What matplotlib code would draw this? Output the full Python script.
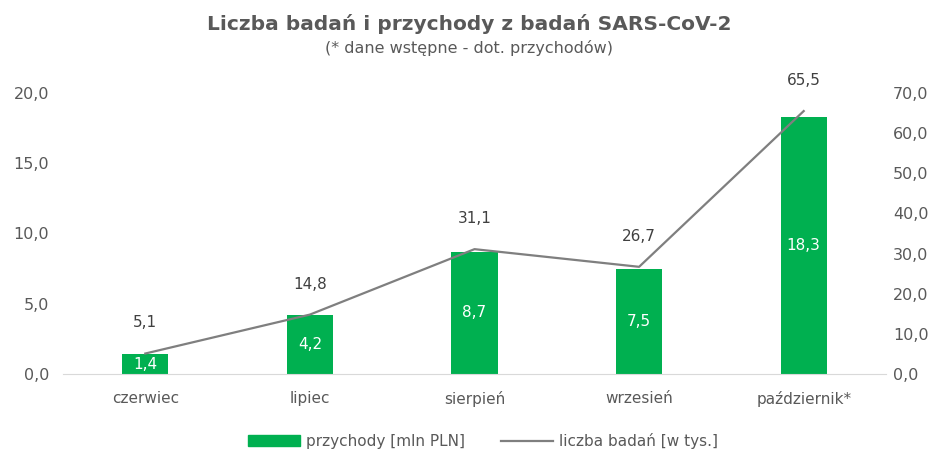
import matplotlib.pyplot as plt
from matplotlib.patches import Patch
from matplotlib.lines import Line2D

# dane
miesiace = ["czerwiec", "lipiec", "sierpień", "wrzesień", "październik*"]
przychody = [1.4, 4.2, 8.7, 7.5, 18.3]
liczba_badan = [5.1, 14.8, 31.1, 26.7, 65.5]
lewe_ticki = [0, 5, 10, 15, 20]
prawe_ticki = [0, 10, 20, 30, 40, 50, 60, 70]

zielony = "#00B050"
szary = "#7F7F7F"
tekst = "#595959"

def pl(v):
    return f"{v:.1f}".replace(".", ",")

fig = plt.figure(figsize=(9.38, 4.54), dpi=100)
ax1 = fig.add_axes([63 / 938, 1 - 374 / 454, (886 - 63) / 938, (374 - 93) / 454])
ax2 = ax1.twinx()

x = list(range(len(miesiace)))
ax1.bar(x, przychody, width=0.28, color=zielony, zorder=2)
ax2.plot(x, liczba_badan, color=szary, lw=1.6, zorder=3)

for xi, v in zip(x, przychody):
    ax1.text(xi, v / 2, pl(v), ha="center", va="center", color="white", fontsize=11)
for xi, v in zip(x, liczba_badan):
    ax2.annotate(pl(v), (xi, v), xytext=(0, 22), textcoords="offset points",
                 ha="center", va="center", color="#404040", fontsize=11)

ax1.set_xlim(-0.5, len(miesiace) - 0.5)
ax1.set_ylim(0, 20)
ax2.set_ylim(0, 70)
ax1.set_yticks(lewe_ticki)
ax1.set_yticklabels([pl(v) for v in lewe_ticki])
ax2.set_yticks(prawe_ticki)
ax2.set_yticklabels([pl(v) for v in prawe_ticki])
ax1.set_xticks(x)
ax1.set_xticklabels(miesiace)

for ax in (ax1, ax2):
    for s in ax.spines.values():
        s.set_visible(False)
    ax.tick_params(length=0, labelsize=11.5, colors=tekst)
ax1.tick_params(axis="x", pad=12, labelsize=11)
ax1.tick_params(axis="y", pad=10)
ax2.tick_params(axis="y", pad=5)
ax1.spines["bottom"].set_visible(True)
ax1.spines["bottom"].set_color("#D9D9D9")

fig.text(0.5, 1 - 24 / 454, "Liczba badań i przychody z badań SARS-CoV-2",
         ha="center", va="center", fontsize=14.5, fontweight="bold", color=tekst)
fig.text(0.5, 1 - 48 / 454, "(* dane wstępne - dot. przychodów)",
         ha="center", va="center", fontsize=11.5, color=tekst)

uchwyty = [Patch(color=zielony), Line2D([0], [0], color=szary, lw=1.6)]
fig.legend(uchwyty, ["przychody [mln PLN]", "liczba badań [w tys.]"],
           loc="center", bbox_to_anchor=(483 / 938, 1 - 441 / 454), ncol=2, frameon=False,
           fontsize=11, labelcolor=tekst, handlelength=3.4, handletextpad=0.35,
           columnspacing=2.4)

fig.savefig("out.png", dpi=100)
